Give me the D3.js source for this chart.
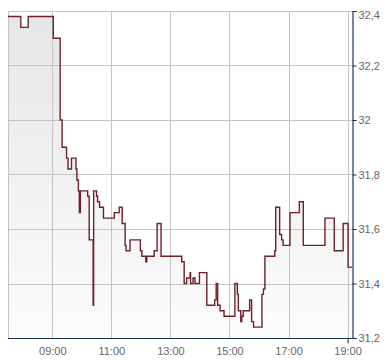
<!DOCTYPE html>
<html>
<head>
<meta charset="utf-8">
<script src="https://cdn.jsdelivr.net/npm/d3@7"></script>
<style>
  body { margin: 0; background: #fff; }
  text { font-family: "Liberation Sans", Arial, sans-serif; font-size: 11px; fill: #666; }
</style>
</head>
<body>
<script>
// intraday quotes, step data
const times = ["07:30","07:56","08:11","09:02","09:16","09:20","09:29","09:32","09:39","09:48","09:50","09:53","09:55","09:57","10:12","10:15","10:23","10:24","10:30","10:32","10:36","10:44","11:06","11:16","11:22","11:28","11:30","11:38","11:59","12:02","12:10","12:12","12:27","12:33","12:41","13:23","13:28","13:33","13:40","13:41","13:46","13:50","13:59","14:14","14:30","14:33","14:36","14:41","14:49","15:11","15:16","15:18","15:23","15:25","15:28","15:41","15:45","15:49","16:06","16:09","16:12","16:32","16:34","16:42","16:46","16:49","17:03","17:22","17:30","18:14","18:33","18:51","19:01","19:09"];
const values = [32.38,32.34,32.38,32.30,32.00,31.90,31.86,31.82,31.86,31.82,31.78,31.74,31.66,31.74,31.72,31.56,31.32,31.74,31.72,31.70,31.68,31.64,31.66,31.68,31.62,31.54,31.52,31.56,31.52,31.50,31.48,31.50,31.52,31.62,31.50,31.48,31.40,31.42,31.44,31.40,31.42,31.40,31.44,31.32,31.34,31.40,31.32,31.30,31.28,31.40,31.36,31.30,31.26,31.28,31.30,31.34,31.26,31.24,31.36,31.38,31.50,31.52,31.68,31.58,31.56,31.54,31.66,31.70,31.54,31.64,31.52,31.62,31.46,31.46];
const xTicks = ["09:00","11:00","13:00","15:00","17:00","19:00"];
const yTicks = [31.2, 31.4, 31.6, 31.8, 32, 32.2, 32.4];

const parse = d3.timeParse("%H:%M");
const data = times.map((t, i) => ({ t: parse(t), v: values[i] }));

const width = 390, height = 364;
const plot = { left: 8, right: 352, top: 11, bottom: 338 };

const x = d3.scaleTime()
  .domain([data[0].t, data[data.length - 1].t])
  .range([plot.left, plot.right]);
const y = d3.scaleLinear()
  .domain([31.2, 32.4])
  .range([plot.bottom, plot.top]);

const svg = d3.select("body").append("svg")
  .attr("width", width)
  .attr("height", height);

const grad = svg.append("defs").append("linearGradient")
  .attr("id", "fill")
  .attr("x1", 0).attr("y1", 0).attr("x2", 0).attr("y2", 1);
grad.append("stop").attr("offset", "0%").attr("stop-color", "#e6e6e6");
grad.append("stop").attr("offset", "100%").attr("stop-color", "#fcfcfc");

// area under the line
const area = d3.area()
  .x(d => x(d.t))
  .y0(plot.bottom)
  .y1(d => y(d.v))
  .curve(d3.curveStepAfter);
svg.append("path")
  .datum(data)
  .attr("fill", "url(#fill)")
  .attr("d", area);

// grid
const grid = svg.append("g").attr("stroke", "#c4c4c4").attr("stroke-width", 1);
grid.selectAll(".h")
  .data(yTicks.slice(1))
  .enter().append("line")
  .attr("x1", plot.left).attr("x2", plot.right)
  .attr("y1", d => Math.round(y(d)) + 0.5)
  .attr("y2", d => Math.round(y(d)) + 0.5);
grid.selectAll(".v")
  .data(xTicks.map(parse))
  .enter().append("line")
  .attr("x1", d => Math.round(x(d)) + 0.5)
  .attr("x2", d => Math.round(x(d)) + 0.5)
  .attr("y1", plot.top).attr("y2", plot.bottom);
grid.append("line")
  .attr("x1", plot.left + 0.5).attr("x2", plot.left + 0.5)
  .attr("y1", plot.top).attr("y2", plot.bottom);

// price line
const line = d3.line()
  .x(d => x(d.t))
  .y(d => y(d.v))
  .curve(d3.curveStepAfter);
svg.append("path")
  .datum(data)
  .attr("fill", "none")
  .attr("stroke", "#6e2128")
  .attr("stroke-width", 1.4)
  .attr("d", line);

// right axis
const yAxis = svg.append("g")
  .attr("transform", "translate(" + (plot.right + 0.5) + ",0)")
  .call(d3.axisRight(y).tickValues(yTicks).tickSize(4).tickPadding(2)
    .tickFormat(d => d3.format(".1f")(d).replace(/\.0$/, "").replace(".", ",")));
yAxis.select(".domain").attr("stroke", "#1c3563").attr("stroke-width", 1.2);
yAxis.selectAll(".tick line").attr("stroke", "#222");
yAxis.selectAll(".tick text").attr("fill", "#666").style("font-size", "11px")
  .attr("dy", (d, i) => i === yTicks.length - 1 ? "0.65em" : "0.32em");

// bottom axis
const xAxis = svg.append("g")
  .attr("transform", "translate(0," + (plot.bottom + 0.5) + ")")
  .call(d3.axisBottom(x).tickValues(xTicks.map(parse)).tickSize(5).tickPadding(4)
    .tickFormat(d3.timeFormat("%H:%M")));
xAxis.select(".domain").attr("stroke", "#1c3563").attr("stroke-width", 1.2)
  .attr("d", "M" + plot.left + ",0H" + plot.right);
xAxis.selectAll(".tick line")
  .attr("stroke", (d, i) => i === xTicks.length - 1 ? "#222" : "none");
xAxis.selectAll(".tick text").attr("fill", "#666").style("font-size", "11px");
</script>
</body>
</html>
